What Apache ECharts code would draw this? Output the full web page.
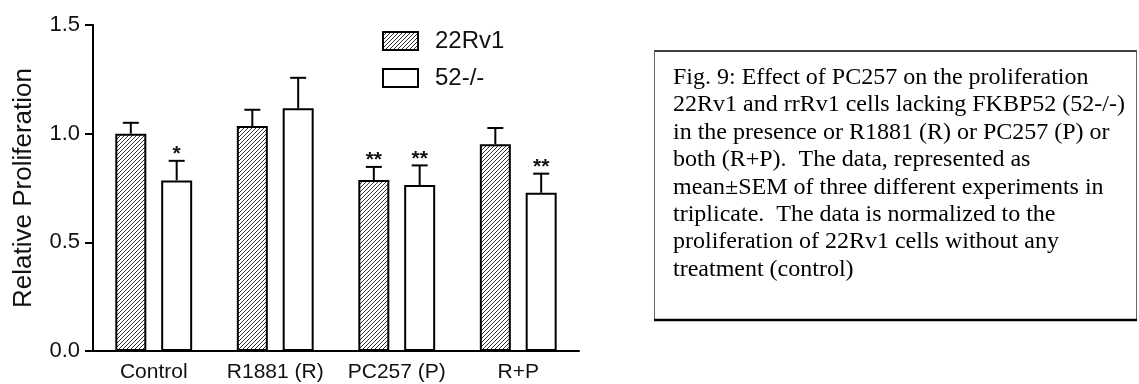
<!DOCTYPE html>
<html>
<head>
<meta charset="utf-8">
<script src="https://cdn.jsdelivr.net/npm/echarts@6/dist/echarts.min.js"></script>
<style>
html,body{margin:0;padding:0;background:#fff;}
#chart{width:1139px;height:384px;}
</style>
</head>
<body>
<div id="chart"></div>
<script>
// ---- data ----
const categories = ['Control', 'R1881 (R)', 'PC257 (P)', 'R+P'];
const seriesNames = ['22Rv1', '52-/-'];
const mean22 = [1.0, 1.035, 0.787, 0.951];
const sem22 = [0.05, 0.075, 0.06, 0.075];
const mean52 = [0.785, 1.117, 0.764, 0.728];
const sem52 = [0.09, 0.14, 0.09, 0.088];
const sig22 = ['', '', '**', ''];
const sig52 = ['*', '', '**', '**'];
const yTicks = [0, 0.5, 1.0, 1.5];
const yTitle = 'Relative Proliferation';
const captionLines = [
  'Fig. 9: Effect of PC257 on the proliferation',
  '22Rv1 and rrRv1 cells lacking FKBP52 (52-/-)',
  'in the presence or R1881 (R) or PC257 (P) or',
  'both (R+P).  The data, represented as',
  'mean\u00B1SEM of three different experiments in',
  'triplicate.  The data is normalized to the',
  'proliferation of 22Rv1 cells without any',
  'treatment (control)'
];

// ---- hatch pattern ----
const tile = document.createElement('canvas');
tile.width = 4; tile.height = 4;
const tctx = tile.getContext('2d');
tctx.fillStyle = '#fff';
tctx.fillRect(0, 0, 4, 4);
tctx.strokeStyle = '#333';
tctx.lineWidth = 1;
for (let k = -1; k <= 1; k++) {
  tctx.beginPath();
  tctx.moveTo(k * 4, 4);
  tctx.lineTo(k * 4 + 4, 0);
  tctx.stroke();
}
const hatch = { image: tile, repeat: 'repeat' };

const BAR_W = 0.255, BAR_GAP = 0.48;

function errRender(sign, sig) {
  return function (params, api) {
    const i = api.value(0), v = api.value(1), e = api.value(2);
    const base = api.coord([i, v]);
    const top = api.coord([i, v + e]);
    const band = api.size([1, 0])[0];
    const bw = band * BAR_W;
    const x = base[0] + sign * (bw + bw * BAR_GAP) / 2;
    const st = { stroke: '#000', lineWidth: 2 };
    const children = [
      { type: 'line', shape: { x1: x, y1: base[1], x2: x, y2: top[1] }, style: st },
      { type: 'line', shape: { x1: x - 8, y1: top[1], x2: x + 8, y2: top[1] }, style: st }
    ];
    if (sig[i]) {
      children.push({
        type: 'text',
        style: { text: sig[i], x: x, y: top[1] + 4, align: 'center', verticalAlign: 'bottom',
                 font: 'bold 21px "Liberation Sans", Arial, sans-serif', fill: '#111' }
      });
    }
    return { type: 'group', children: children };
  };
}

const chart = echarts.init(document.getElementById('chart'), null, { renderer: 'canvas' });
const axisFont = '"Liberation Sans", Arial, sans-serif';

chart.setOption({
  animation: false,
  backgroundColor: '#fff',
  grid: { left: 93, right: 560, top: 25, bottom: 33, containLabel: false, outerBoundsMode: 'none' },
  legend: {
    orient: 'vertical',
    left: 382, top: 29, padding: 0,
    icon: 'rect',
    itemWidth: 35, itemHeight: 18, itemGap: 13,
    data: seriesNames,
    textStyle: { fontFamily: axisFont, fontSize: 24, color: '#111', padding: [0, 0, 0, 12] },
    selectedMode: false
  },
  xAxis: {
    type: 'category',
    data: categories,
    axisLine: { lineStyle: { color: '#000', width: 2 } },
    axisTick: { alignWithLabel: true, length: 8, lineStyle: { color: '#000', width: 2 } },
    axisLabel: { fontFamily: axisFont, fontSize: 21, color: '#111', margin: 11, interval: 0 }
  },
  yAxis: {
    type: 'value',
    min: 0, max: 1.5, interval: 0.5,
    name: yTitle,
    nameLocation: 'middle',
    nameGap: 56,
    nameTextStyle: { fontFamily: axisFont, fontSize: 26, color: '#111' },
    axisLine: { show: true, lineStyle: { color: '#000', width: 2 } },
    axisTick: { show: true, length: 8, lineStyle: { color: '#000', width: 2 } },
    splitLine: { show: false },
    axisLabel: { fontFamily: axisFont, fontSize: 22, color: '#111', margin: 13,
                 formatter: v => yTicks.indexOf(v) >= 0 ? v.toFixed(1) : '' }
  },
  series: [
    { name: seriesNames[0], type: 'bar', data: mean22, barWidth: (BAR_W * 100) + '%', barGap: (BAR_GAP * 100) + '%',
      itemStyle: { color: hatch, borderColor: '#000', borderWidth: 2 } },
    { name: seriesNames[1], type: 'bar', data: mean52, barWidth: (BAR_W * 100) + '%', barGap: (BAR_GAP * 100) + '%',
      itemStyle: { color: '#fff', borderColor: '#000', borderWidth: 2 } },
    { type: 'custom', z: 5, renderItem: errRender(-1, sig22),
      data: mean22.map((v, i) => [i, v, sem22[i]]) },
    { type: 'custom', z: 5, renderItem: errRender(1, sig52),
      data: mean52.map((v, i) => [i, v, sem52[i]]) }
  ],
  graphic: [
    { type: 'line', shape: { x1: 654, y1: 51, x2: 1137, y2: 51 }, style: { stroke: '#000', lineWidth: 1.5 } },
    { type: 'line', shape: { x1: 654.5, y1: 51, x2: 654.5, y2: 320 }, style: { stroke: '#666', lineWidth: 1 } },
    { type: 'line', shape: { x1: 1136.5, y1: 51, x2: 1136.5, y2: 320 }, style: { stroke: '#666', lineWidth: 1 } },
    { type: 'line', shape: { x1: 654, y1: 320, x2: 1137, y2: 320 }, style: { stroke: '#000', lineWidth: 2.5 } },
    { type: 'text', left: 673, top: 64,
      style: { text: captionLines.join('\n'), font: '24px "Liberation Serif", "Times New Roman", serif',
               lineHeight: 27.4, fill: '#000' } }
  ]
});
</script>
</body>
</html>
